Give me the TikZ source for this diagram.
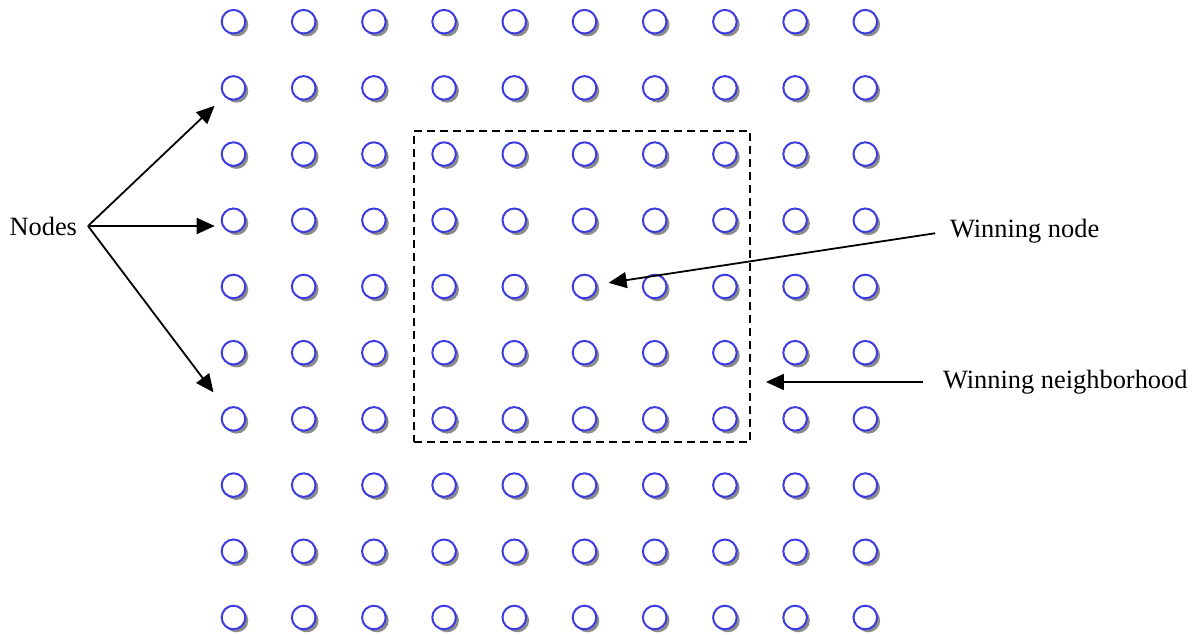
\documentclass[tikz,border=0pt]{standalone}
\usepackage{fontspec}
\setmainfont{Liberation Serif}
\usetikzlibrary{arrows.meta, shadows, fit}
\definecolor{somblue}{RGB}{60, 60, 225}
\definecolor{somshade}{RGB}{100, 100, 100}
\pgfdeclareradialshading{somfill}{\pgfpoint{0bp}{0bp}}{color(0bp)=(white); color(34bp)=(white); color(50bp)=(somblue!22)}

\begin{document}
\begin{tikzpicture}[
  x=0.5pt, y=-0.5pt,
  unit/.style={circle, draw=somblue, line width=1pt, shading=somfill, minimum size=11.8pt, inner sep=0pt,
    drop shadow={shadow xshift=1.5pt, shadow yshift=-1.5pt, fill=somshade, opacity=0.75}},
  lbl/.style={inner sep=0pt, outer sep=0pt, font=\fontsize{13.2}{16}\selectfont},
  arr/.style={-{Triangle[length=9pt, width=8pt]}, line width=0.9pt},
  hood/.style={draw, dash pattern=on 4pt off 2.5pt, line width=0.9pt, inner sep=0pt}
]
\useasboundingbox (0,0) rectangle (1204,635);

% map of units
\foreach \i in {0,...,9}
  \foreach \j in {0,...,9}
    \node[unit] (c-\i-\j) at ({233.5+70.2*\i},{21.7+66.2*\j}) {};

% neighborhood of the winner
\node[hood, fit={(414,131) (750,442)}] (hood) {};

\node[lbl, anchor=east] (nodes) at (77,226) {Nodes};
\node[lbl, anchor=west] (wn) at (950,231) {Winning node};
\node[lbl, anchor=west] (nbhd) at (943,382) {Winning neighborhood};
\coordinate (fan) at ([xshift=5.5pt]nodes.east);

\draw[arr, shorten >=6.6pt] (fan) -- (c-0-1);
\draw[arr, shorten >=3pt] (fan) -- (c-0-3.west |- fan);
\draw[arr, shorten >=10.2pt] (fan) -- (c-0-6);

\draw[arr, shorten <=7.5pt, shorten >=5.8pt] (wn.west) -- (c-5-4);
\draw[arr, shorten <=10pt, shorten >=7.5pt] (nbhd.west) -- (hood.east |- nbhd.west);

\end{tikzpicture}
\end{document}
